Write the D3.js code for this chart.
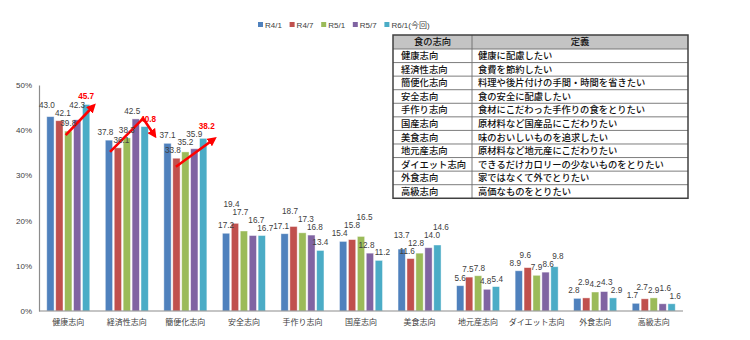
<!DOCTYPE html>
<html>
<head>
<meta charset="utf-8">
<script src="https://cdn.jsdelivr.net/npm/d3@7"></script>
<style>
  html, body { margin: 0; padding: 0; background: #fff; }
  svg { display: block; }
  text { font-family: "Liberation Sans", Arial, "Noto Sans CJK JP", sans-serif; }
  .jp { font-family: "Noto Sans CJK JP", sans-serif; }
</style>
</head>
<body>
<svg id="chart" width="750" height="340"></svg>
<script>
// Food-preference survey: share of respondents per orientation, five survey rounds
const categories = ["健康志向", "経済性志向", "簡便化志向", "安全志向", "手作り志向", "国産志向",
                    "美食志向", "地元産志向", "ダイエット志向", "外食志向", "高級志向"];
const seriesNames = ["R4/1", "R4/7", "R5/1", "R5/7", "R6/1(今回)"];
const r4_1 = [43.0, 37.8, 37.1, 17.2, 17.1, 15.4, 13.7, 5.6, 8.9, 2.8, 1.7];
const r4_7 = [42.1, 36.1, 33.8, 19.4, 18.7, 15.8, 11.6, 7.5, 9.6, 2.9, 2.7];
const r5_1 = [39.8, 38.3, 35.2, 17.7, 17.3, 16.5, 12.8, 7.8, 7.9, 4.2, 2.9];
const r5_7 = [42.3, 42.5, 35.9, 16.7, 16.8, 12.8, 14.0, 4.8, 8.6, 4.3, 1.6];
const r6_1 = [45.7, 40.8, 38.2, 16.7, 13.4, 11.2, 14.6, 5.4, 9.8, 2.9, 1.6];
const seriesValues = [r4_1, r4_7, r5_1, r5_7, r6_1];
const seriesColors = ["#4F81BD", "#C0504D", "#9BBB59", "#8064A2", "#4BACC6"];
const yTicks = [0, 10, 20, 30, 40, 50];
// Categories whose latest value is highlighted in red
const highlighted = ["健康志向", "経済性志向", "簡便化志向"];

// Trend arrows: points given as (category, position in bar slots, value)
const trendArrows = [
  [["健康志向", 2.2, 38.9], ["健康志向", 5.4, 45.3]],
  [["経済性志向", 0.55, 35.2], ["経済性志向", 4.4, 42.6], ["経済性志向", 5.7, 38.9]],
  [["簡便化志向", 1.4, 31.9], ["簡便化志向", 5.8, 38.0]]
];

// Definition table
const tableHeader = ["食の志向", "定義"];
const definitions = [
  "健康に配慮したい",
  "食費を節約したい",
  "料理や後片付けの手間・時間を省きたい",
  "食の安全に配慮したい",
  "食材にこだわった手作りの食をとりたい",
  "原材料など国産品にこだわりたい",
  "味のおいしいものを追求したい",
  "原材料など地元産にこだわりたい",
  "できるだけカロリーの少ないものをとりたい",
  "家ではなくて外でとりたい",
  "高価なものをとりたい"
];

const svg = d3.select("#chart");
const plot = { left: 39, right: 683, top: 85, bottom: 311 };

const x = d3.scaleBand().domain(categories).range([plot.left, plot.right])
  .paddingInner(0.265).paddingOuter(0.1325);
const xs = d3.scaleBand().domain(d3.range(seriesNames.length)).range([0, x.bandwidth()])
  .paddingInner(0.18);
const slot = x.bandwidth() / seriesNames.length;
const y = d3.scaleLinear().domain([0, 50]).range([plot.bottom, plot.top]);

// Y axis
const yAxis = svg.append("g").attr("transform", `translate(${plot.left},0)`)
  .call(d3.axisLeft(y).tickValues(yTicks).tickSize(0).tickPadding(7).tickFormat(d => d + "%"));
yAxis.select(".domain").attr("stroke", "#8c8c8c").attr("stroke-width", 1.2);
yAxis.selectAll("text").attr("font-size", 8).attr("fill", "#404040")
  .attr("font-family", "'Liberation Sans', Arial, sans-serif");

// Bars
const groups = svg.append("g").selectAll("g").data(categories).join("g")
  .attr("transform", d => `translate(${x(d)},0)`);
groups.selectAll("rect")
  .data((c, i) => seriesValues.map((s, k) => ({ k, v: s[i], c })))
  .join("rect")
  .attr("x", d => xs(d.k))
  .attr("width", xs.bandwidth())
  .attr("y", d => y(d.v))
  .attr("height", d => y(0) - y(d.v))
  .attr("fill", d => seriesColors[d.k])
  .attr("stroke", "#ffffff").attr("stroke-opacity", 0.55).attr("stroke-width", 0.8);

// X axis baseline
svg.append("line").attr("x1", plot.left).attr("x2", plot.right)
  .attr("y1", y(0)).attr("y2", y(0)).attr("stroke", "#8c8c8c").attr("stroke-width", 1.2);

// Category labels
svg.append("g").selectAll("text").data(categories).join("text")
  .attr("class", "jp")
  .attr("x", d => x(d) + x.bandwidth() / 2)
  .attr("y", plot.bottom + 14)
  .attr("text-anchor", "middle")
  .attr("font-size", 8)
  .attr("fill", "#404040")
  .text(d => d);

// Trend arrows
const defs = svg.append("defs");
defs.append("marker").attr("id", "head")
  .attr("viewBox", "0 0 10 10").attr("refX", 6).attr("refY", 5)
  .attr("markerWidth", 3.6).attr("markerHeight", 3.6).attr("orient", "auto")
  .append("path").attr("d", "M0,0 L10,5 L0,10 Z").attr("fill", "#FF0000");
const arrowLine = d3.line().x(p => x(p[0]) + p[1] * slot).y(p => y(p[2]));
svg.append("g").selectAll("path").data(trendArrows).join("path")
  .attr("d", arrowLine)
  .attr("fill", "none").attr("stroke", "#FF0000").attr("stroke-width", 2.6)
  .attr("stroke-linejoin", "miter")
  .attr("marker-end", "url(#head)");

// Value labels, drawn above each bar then nudged apart where they collide
const isRed = d => d.k === 4 && highlighted.includes(d.c);
const labelLayer = svg.append("g");
categories.forEach((c, i) => {
  const items = seriesValues.map((s, k) => ({ k, v: s[i], c }));
  const texts = labelLayer.selectAll(null).data(items).join("text")
    .attr("text-anchor", "middle")
    .attr("font-size", 8.2)
    .attr("fill", d => isRed(d) ? "#FF0000" : "#404040")
    .attr("font-weight", d => isRed(d) ? "bold" : "normal")
    .text(d => d.v.toFixed(1));
  texts.each(function (d) {
    d.w = this.getComputedTextLength();
    d.cx = x(c) + xs(d.k) + xs.bandwidth() / 2;
    d.x = d.cx;
    d.y = y(d.v) - 5;
  });
  const h = 8, gap = 0.2, maxShift = 3.5;
  for (let iter = 0; iter < 40; iter++) {
    let moved = false;
    for (let a = 0; a < items.length; a++) {
      for (let b = a + 1; b < items.length; b++) {
        const A = items[a], B = items[b];
        const ox = (A.x + A.w / 2) - (B.x - B.w / 2) + gap;
        const oy = h - Math.abs(A.y - B.y);
        if (ox <= 0.01 || oy <= 0.01) continue;
        const roomA = maxShift - (A.cx - A.x), roomB = maxShift - (B.x - B.cx);
        if (b === a + 1 && roomA > 0.01 && roomB > 0.01) {
          const s = Math.min(ox / 2, roomA, roomB);
          A.x -= s; B.x += s;
        } else {
          const top = A.v >= B.v ? A : B, low = top === A ? B : A;
          top.y = Math.min(top.y, low.y - h);
        }
        moved = true;
      }
    }
    if (!moved) break;
  }
  texts.attr("x", d => d.x).attr("y", d => d.y);
});

// Legend
const legend = svg.append("g").attr("transform", "translate(258,25)");
const li = legend.selectAll("g").data(seriesNames).join("g")
  .attr("transform", (d, i) => `translate(${i * 31.6},0)`);
li.append("rect").attr("x", 0).attr("y", -3).attr("width", 5).attr("height", 5)
  .attr("fill", (d, i) => seriesColors[i]);
li.append("text").attr("x", 7).attr("y", 2.5).attr("font-size", 8).attr("fill", "#404040")
  .text(d => d);

// Definition table
const tbl = { left: 393, mid: 472, right: 688, top: 35, headH: 14, rowH: 13.57 };
const tg = svg.append("g");
tg.append("rect").attr("x", tbl.left).attr("y", tbl.top)
  .attr("width", tbl.right - tbl.left).attr("height", tbl.headH).attr("fill", "#c4c4c4");
const rowY = i => tbl.top + tbl.headH + i * tbl.rowH;
const bottom = rowY(categories.length);
tg.selectAll("line.row").data(d3.range(0, categories.length)).join("line")
  .attr("x1", tbl.left).attr("x2", tbl.right)
  .attr("y1", i => rowY(i)).attr("y2", i => rowY(i))
  .attr("stroke", "#6e6e6e").attr("stroke-width", 0.9);
tg.append("line").attr("x1", tbl.mid).attr("x2", tbl.mid).attr("y1", tbl.top).attr("y2", bottom)
  .attr("stroke", "#6e6e6e").attr("stroke-width", 0.9);
tg.append("rect").attr("x", tbl.left).attr("y", tbl.top)
  .attr("width", tbl.right - tbl.left).attr("height", bottom - tbl.top)
  .attr("fill", "none").attr("stroke", "#404040").attr("stroke-width", 1.5);
tg.selectAll("text.head").data(tableHeader).join("text").attr("class", "jp head")
  .attr("x", (d, i) => i === 0 ? (tbl.left + tbl.mid) / 2 : (tbl.mid + tbl.right) / 2)
  .attr("y", tbl.top + tbl.headH / 2 + 3.4)
  .attr("text-anchor", "middle").attr("font-size", 9.3).attr("font-weight", 500).attr("fill", "#111")
  .text(d => d);
tg.selectAll("text.c1").data(categories).join("text").attr("class", "jp c1")
  .attr("x", tbl.left + 8).attr("y", (d, i) => rowY(i) + tbl.rowH / 2 + 3.4)
  .attr("font-size", 9.3).attr("font-weight", 500).attr("fill", "#111").text(d => d);
tg.selectAll("text.c2").data(definitions).join("text").attr("class", "jp c2")
  .attr("x", tbl.mid + 6).attr("y", (d, i) => rowY(i) + tbl.rowH / 2 + 3.4)
  .attr("font-size", 9.3).attr("font-weight", 500).attr("fill", "#111").text(d => d);
</script>
</body>
</html>
